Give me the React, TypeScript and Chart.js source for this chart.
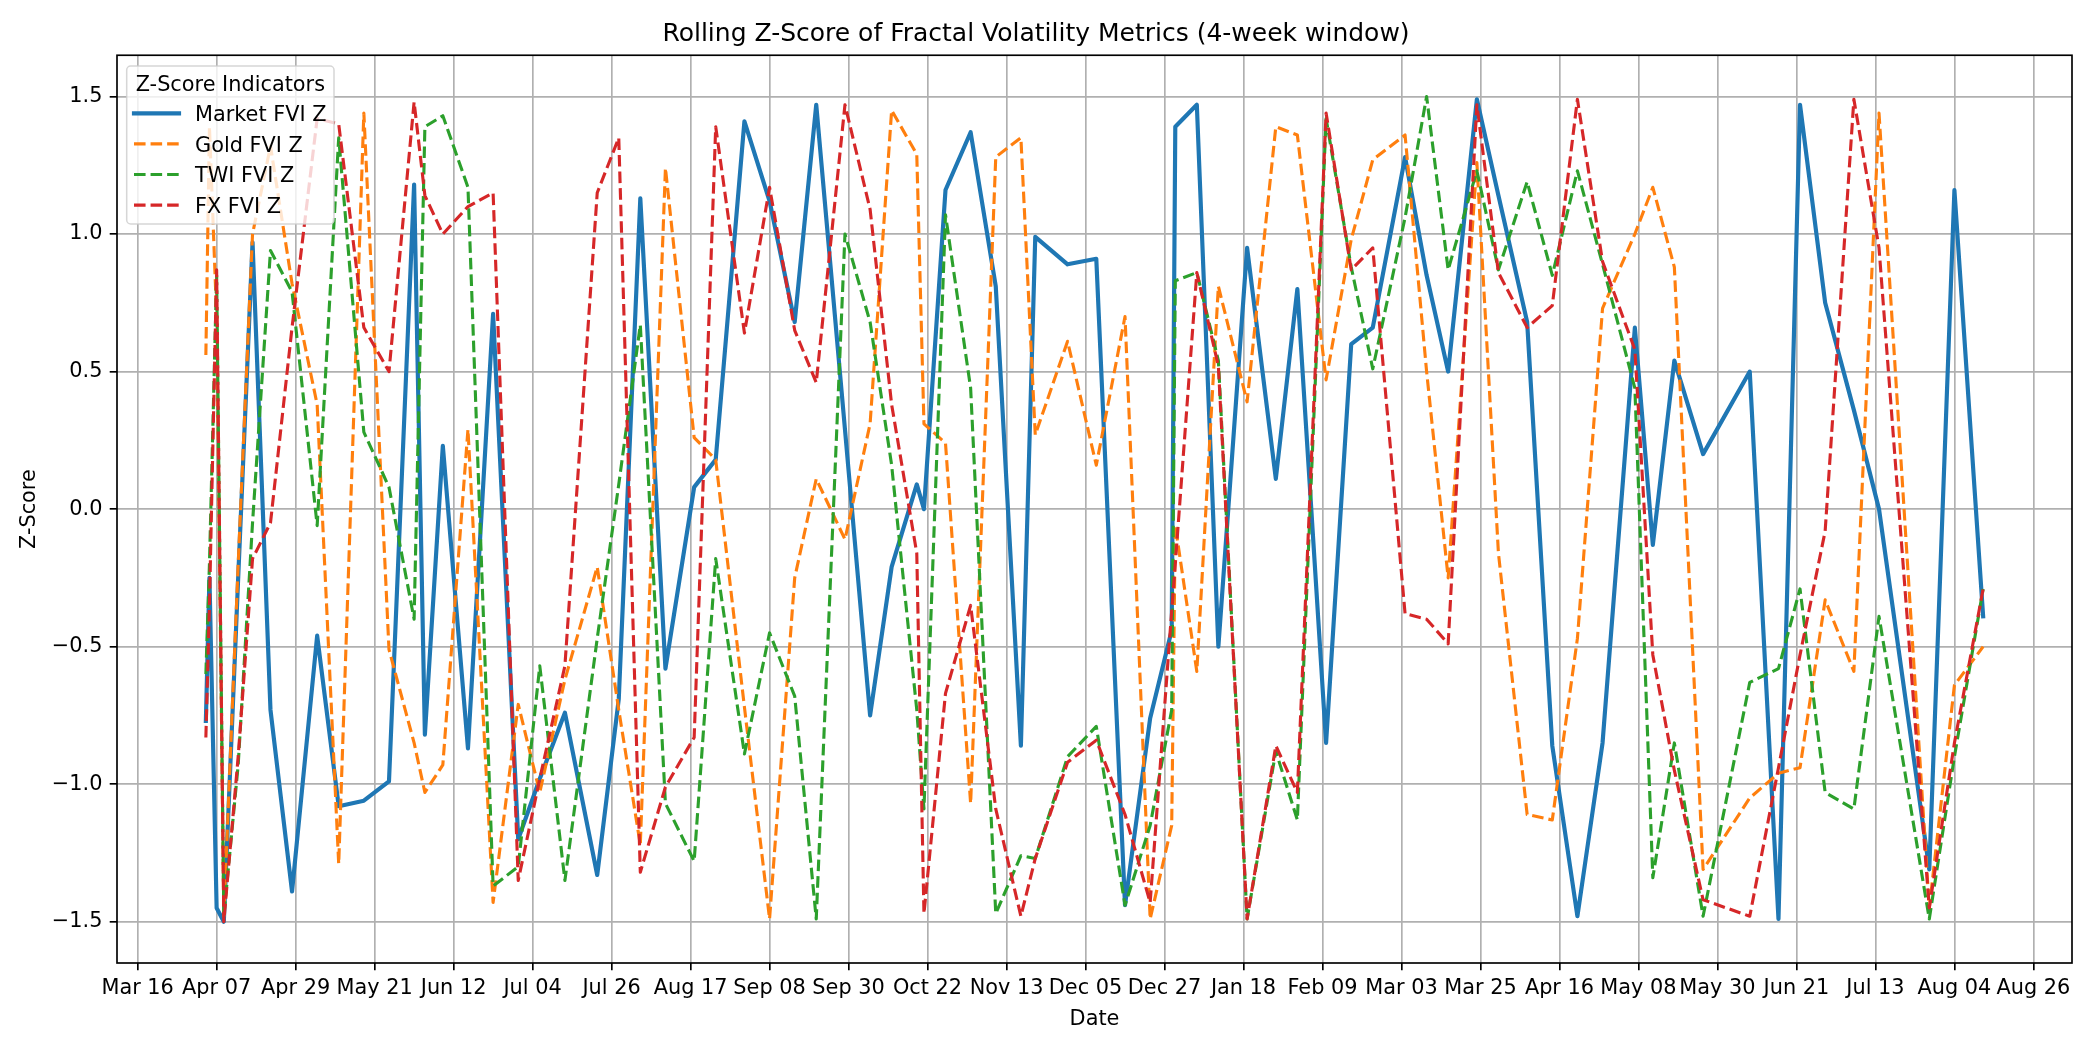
import { useEffect, useRef } from "react";
import { Chart, registerables } from "chart.js";

Chart.register(...registerables);

// ---------- data ----------
const dates = [
  "2022-04-04", "2022-04-05", "2022-04-07", "2022-04-09", "2022-04-13", "2022-04-17", "2022-04-22", "2022-04-28",
  "2022-05-05", "2022-05-11", "2022-05-18", "2022-05-25", "2022-06-01", "2022-06-04", "2022-06-09", "2022-06-16",
  "2022-06-23", "2022-06-30", "2022-07-06", "2022-07-13", "2022-07-22", "2022-07-28", "2022-08-03", "2022-08-10",
  "2022-08-18", "2022-08-24", "2022-09-01", "2022-09-08", "2022-09-15", "2022-09-21", "2022-09-29", "2022-10-06",
  "2022-10-12", "2022-10-19", "2022-10-21", "2022-10-27", "2022-11-03", "2022-11-10", "2022-11-17", "2022-11-21",
  "2022-11-30", "2022-12-08", "2022-12-16", "2022-12-23", "2022-12-29", "2022-12-30", "2023-01-05", "2023-01-11",
  "2023-01-19", "2023-01-27", "2023-02-02", "2023-02-10", "2023-02-17", "2023-02-23", "2023-03-04", "2023-03-10",
  "2023-03-16", "2023-03-24", "2023-03-30", "2023-04-07", "2023-04-14", "2023-04-21", "2023-04-28", "2023-05-07",
  "2023-05-12", "2023-05-18", "2023-05-26", "2023-06-08", "2023-06-16", "2023-06-22", "2023-06-29", "2023-07-07",
  "2023-07-14", "2023-07-28", "2023-08-04", "2023-08-12",
];

const marketFviZ = [
  -0.77, -0.25, -1.45, -1.5, -0.25, 0.97, -0.73, -1.39,
  -0.46, -1.08, -1.06, -0.99, 1.18, -0.82, 0.23, -0.87,
  0.71, -1.2, -0.98, -0.74, -1.33, -0.69, 1.13, -0.58,
  0.08, 0.18, 1.41, 1.12, 0.68, 1.47, 0.29, -0.75,
  -0.21, 0.09, 0.0, 1.16, 1.37, 0.81, -0.86, 0.99,
  0.89, 0.91, -1.44, -0.76, -0.44, 1.39, 1.47, -0.5,
  0.95, 0.11, 0.8, -0.85, 0.6, 0.66, 1.28, 0.85,
  0.5, 1.49, 1.14, 0.68, -0.86, -1.48, -0.85, 0.66,
  -0.13, 0.54, 0.2, 0.5, -1.49, 1.47, 0.75, 0.36,
  0.0, -1.31, 1.16, -0.39,
];

const goldFviZ = [
  0.56, 1.39, 0.7, -1.48, -0.2, 1.0, 1.32, 0.82,
  0.38, -1.29, 1.44, -0.51, -0.85, -1.03, -0.93, 0.29,
  -1.43, -0.71, -1.03, -0.62, -0.21, -0.73, -1.22, 1.24,
  0.26, 0.18, -0.72, -1.49, -0.25, 0.11, -0.11, 0.31,
  1.45, 1.29, 0.31, 0.24, -1.07, 1.28, 1.35, 0.27,
  0.61, 0.16, 0.7, -1.49, -1.15, -0.06, -0.59, 0.81,
  0.39, 1.39, 1.36, 0.47, 0.98, 1.27, 1.36, 0.5,
  -0.25, 1.26, -0.16, -1.11, -1.13, -0.47, 0.73, 1.0,
  1.17, 0.88, -1.31, -1.05, -0.96, -0.94, -0.33, -0.59,
  1.44, -1.45, -0.64, -0.5,
];

const twiFviZ = [
  -0.6, -0.2, 0.85, -1.48, -0.93, -0.05, 0.94, 0.79,
  -0.06, 1.35, 0.28, 0.08, -0.4, 1.39, 1.43, 1.17,
  -1.37, -1.3, -0.57, -1.35, -0.47, 0.09, 0.67, -1.07,
  -1.28, -0.18, -0.89, -0.45, -0.68, -1.49, 1.0, 0.68,
  0.16, -0.73, -1.09, 1.07, 0.44, -1.47, -1.26, -1.27,
  -0.9, -0.79, -1.44, -1.15, -0.73, 0.83, 0.86, 0.54,
  -1.49, -0.88, -1.13, 1.42, 0.88, 0.51, 1.06, 1.5,
  0.87, 1.23, 0.87, 1.19, 0.85, 1.23, 0.89, 0.44,
  -1.34, -0.85, -1.48, -0.63, -0.58, -0.29, -1.03, -1.09,
  -0.39, -1.49, -0.9, -0.29,
];

const fxFviZ = [
  -0.83, -0.35, 0.87, -1.5, -0.9, -0.18, -0.05, 0.66,
  1.42, 1.4, 0.66, 0.5, 1.48, 1.14, 1.0, 1.1,
  1.15, -1.35, -0.98, -0.57, 1.15, 1.35, -1.32, -1.01,
  -0.83, 1.39, 0.64, 1.17, 0.65, 0.46, 1.47, 1.09,
  0.38, -0.16, -1.47, -0.67, -0.35, -1.09, -1.48, -1.27,
  -0.92, -0.84, -1.11, -1.43, -0.37, -0.2, 0.86, 0.52,
  -1.49, -0.86, -1.03, 1.44, 0.87, 0.95, -0.38, -0.4,
  -0.49, 1.47, 0.86, 0.66, 0.74, 1.49, 0.9, 0.58,
  -0.53, -0.95, -1.42, -1.48, -0.94, -0.53, -0.08, 1.49,
  0.95, -1.45, -0.85, -0.29,
];

const seriesNames = ["Market FVI Z", "Gold FVI Z", "TWI FVI Z", "FX FVI Z"];
const seriesColors = ["#1f77b4", "#ff7f0e", "#2ca02c", "#d62728"];

const xTickDates = [
  "2022-03-16", "2022-04-07", "2022-04-29", "2022-05-21", "2022-06-12", "2022-07-04", "2022-07-26",
  "2022-08-17", "2022-09-08", "2022-09-30", "2022-10-22", "2022-11-13", "2022-12-05", "2022-12-27",
  "2023-01-18", "2023-02-09", "2023-03-03", "2023-03-25", "2023-04-16", "2023-05-08", "2023-05-30",
  "2023-06-21", "2023-07-13", "2023-08-04", "2023-08-26",
];
const yTicks = [-1.5, -1.0, -0.5, 0.0, 0.5, 1.0, 1.5];

const chartTitle = "Rolling Z-Score of Fractal Volatility Metrics (4-week window)";
const xTitle = "Date";
const yTitle = "Z-Score";
const legendTitle = "Z-Score Indicators";

// ---------- helpers ----------
const MONTHS = ["Jan", "Feb", "Mar", "Apr", "May", "Jun", "Jul", "Aug", "Sep", "Oct", "Nov", "Dec"];
const DAY_MS = 86400000;
const toDay = (s: string) => {
  const [y, m, d] = s.split("-").map(Number);
  return Date.UTC(y, m - 1, d) / DAY_MS;
};
const fmtDay = (day: number) => {
  const dt = new Date(Math.round(day) * DAY_MS);
  return MONTHS[dt.getUTCMonth()] + " " + String(dt.getUTCDate()).padStart(2, "0");
};
const fmtY = (v: number) => {
  const s = Math.abs(v).toFixed(1);
  return v < 0 ? "\u2212" + s : s;
};

const PT = 150 / 72;
const FONT_FAMILY = "'DejaVu Sans', 'Liberation Sans', sans-serif";
const FS = 10 * PT;
const LW_THIN = 0.8 * PT;
const DASH = [3.7 * 1.5 * PT, 1.6 * 1.5 * PT];

const W = 2100;
const H = 1050;

export default function App() {
  const ref = useRef<HTMLCanvasElement | null>(null);

  useEffect(() => {
    const canvas = ref.current;
    if (!canvas) return;

    const xs = dates.map(toDay);
    const dMin = Math.min(...xs);
    const dMax = Math.max(...xs);
    const margin = (dMax - dMin) * 0.05;
    const allSeries = [marketFviZ, goldFviZ, twiFviZ, fxFviZ];

    const datasets = allSeries.map((vals, i) => ({
      label: seriesNames[i],
      data: vals.map((v, j) => ({ x: xs[j], y: v })),
      borderColor: seriesColors[i],
      backgroundColor: seriesColors[i],
      borderWidth: i === 0 ? 2 * PT : 1.5 * PT,
      borderDash: i === 0 ? [] : DASH,
      borderCapStyle: i === 0 ? "square" : "butt",
      borderJoinStyle: "round",
      pointRadius: 0,
      pointHoverRadius: 0,
      tension: 0,
      fill: false,
      order: 4 - i,
    }));

    const frameLegend = {
      id: "frameLegend",
      afterDraw(chart: any) {
        const ctx = chart.ctx;
        const ca = chart.chartArea;
        ctx.save();
        // spines
        ctx.strokeStyle = "#000";
        ctx.lineWidth = LW_THIN;
        ctx.setLineDash([]);
        ctx.strokeRect(ca.left, ca.top, ca.right - ca.left, ca.bottom - ca.top);

        // legend box
        const bx = ca.left + 9.7;
        const by = ca.top + 10.75;
        const bw = 207.3;
        const bh = 158;
        const r = 4;
        ctx.beginPath();
        ctx.moveTo(bx + r, by);
        ctx.lineTo(bx + bw - r, by);
        ctx.arcTo(bx + bw, by, bx + bw, by + r, r);
        ctx.lineTo(bx + bw, by + bh - r);
        ctx.arcTo(bx + bw, by + bh, bx + bw - r, by + bh, r);
        ctx.lineTo(bx + r, by + bh);
        ctx.arcTo(bx, by + bh, bx, by + bh - r, r);
        ctx.lineTo(bx, by + r);
        ctx.arcTo(bx, by, bx + r, by, r);
        ctx.closePath();
        ctx.fillStyle = "rgba(255,255,255,0.8)";
        ctx.fill();
        ctx.strokeStyle = "rgba(204,204,204,0.8)";
        ctx.lineWidth = 1.5;
        ctx.stroke();

        ctx.font = `${FS}px ${FONT_FAMILY}`;
        ctx.fillStyle = "#000";
        ctx.textBaseline = "alphabetic";
        ctx.textAlign = "center";
        ctx.fillText(legendTitle, bx + bw / 2, by + 24.7);

        ctx.textAlign = "left";
        chart.data.datasets.forEach((ds: any, i: number) => {
          const ly = by + 47.3 + i * 30.6;
          ctx.beginPath();
          ctx.strokeStyle = ds.borderColor;
          ctx.lineWidth = ds.borderWidth;
          ctx.setLineDash(ds.borderDash || []);
          ctx.lineCap = ds.borderDash && ds.borderDash.length ? "butt" : "square";
          ctx.moveTo(bx + 7.3, ly);
          ctx.lineTo(bx + 52.3, ly);
          ctx.stroke();
          ctx.setLineDash([]);
          ctx.fillStyle = "#000";
          ctx.fillText(ds.label, bx + 68.3, by + 55 + i * 30.6);
        });
        ctx.restore();
      },
    };

    const tickFont = { family: FONT_FAMILY, size: FS };

    const chart = new Chart(canvas, {
      type: "line",
      data: { datasets: datasets as any },
      plugins: [frameLegend],
      options: {
        animation: false,
        responsive: false,
        devicePixelRatio: 1,
        events: [],
        layout: { padding: { left: 0, right: 28, top: 0, bottom: 0 } },
        plugins: {
          legend: { display: false },
          tooltip: { enabled: false },
          title: {
            display: true,
            text: chartTitle,
            color: "#000",
            font: { family: FONT_FAMILY, size: 12 * PT, weight: "normal" },
            padding: { top: 19, bottom: 6.25 },
          },
        },
        scales: {
          x: {
            type: "linear",
            min: dMin - margin,
            max: dMax + margin,
            afterBuildTicks: (s: any) => {
              s.ticks = xTickDates.map((d) => ({ value: toDay(d) }));
            },
            afterFit: (s: any) => {
              s.height = 87;
            },
            ticks: {
              autoSkip: false,
              maxRotation: 0,
              minRotation: 0,
              color: "#000",
              font: tickFont,
              padding: 6,
              callback: (v: any) => fmtDay(Number(v)),
            },
            grid: {
              color: "#b0b0b0",
              lineWidth: LW_THIN,
              drawTicks: true,
              tickColor: "#000",
              tickLength: 3.5 * PT,
              tickWidth: LW_THIN,
            },
            border: { display: false },
            title: {
              display: true,
              text: xTitle,
              color: "#000",
              font: tickFont,
              padding: { top: 0, bottom: 17.5 },
            },
          },
          y: {
            type: "linear",
            min: -1.65,
            max: 1.65,
            afterBuildTicks: (s: any) => {
              s.ticks = yTicks.map((v) => ({ value: v }));
            },
            afterFit: (s: any) => {
              s.width = 117;
            },
            ticks: {
              color: "#000",
              font: tickFont,
              padding: 3.5 * PT,
              callback: (v: any) => fmtY(Number(v)),
            },
            grid: {
              color: "#b0b0b0",
              lineWidth: LW_THIN,
              drawTicks: true,
              tickColor: "#000",
              tickLength: 3.5 * PT,
              tickWidth: LW_THIN,
            },
            border: { display: false },
            title: {
              display: true,
              text: yTitle,
              color: "#000",
              font: tickFont,
              padding: { top: 17.5, bottom: 0 },
            },
          },
        },
      } as any,
    });

    return () => {
      chart.destroy();
    };
  }, []);

  return (
    <div style={{ position: "fixed", left: 0, top: 0, width: W, height: H, background: "#fff" }}>
      <canvas ref={ref} width={W} height={H} style={{ width: W, height: H, display: "block" }} />
    </div>
  );
}
